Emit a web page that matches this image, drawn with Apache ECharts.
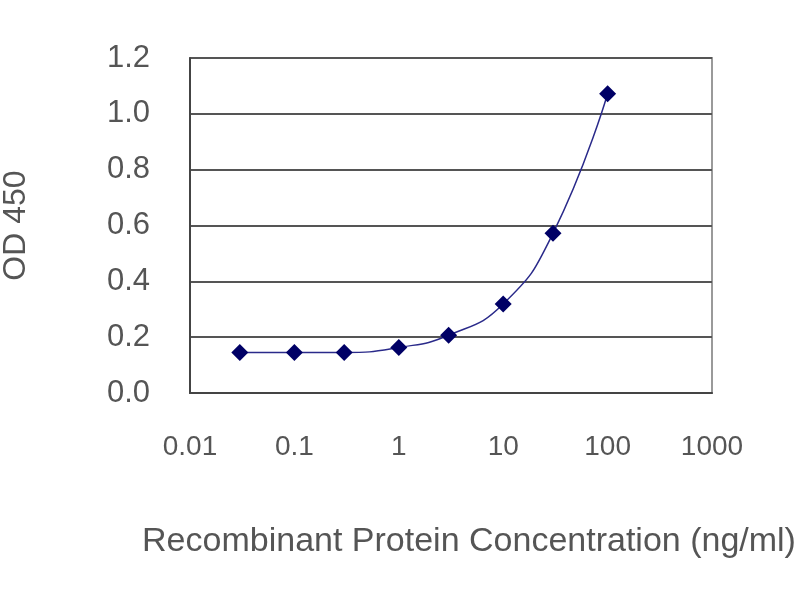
<!DOCTYPE html>
<html>
<head>
<meta charset="utf-8">
<script src="https://cdn.jsdelivr.net/npm/echarts@6/dist/echarts.min.js"></script>
<style>
  html, body { margin: 0; padding: 0; background: #fff; }
  #chart { width: 800px; height: 600px; }
</style>
</head>
<body>
<div id="chart"></div>
<script>
// concentration (ng/ml) and OD 450
const concentrations = [0.03, 0.1, 0.3, 1, 3, 10, 30, 100];
const odValues = [0.145, 0.145, 0.145, 0.163, 0.207, 0.319, 0.572, 1.072];
const xTickLabels = ['0.01', '0.1', '1', '10', '100', '1000'];

const chart = echarts.init(document.getElementById('chart'));

const seriesData = concentrations.map((c, i) => [c, odValues[i]]);

const option = {
    backgroundColor: '#fff',
    textStyle: { fontFamily: 'Liberation Sans, Arial, sans-serif' },
    grid: {
        left: 190, right: 88, top: 58, bottom: 207,
        outerBoundsMode: 'none',
        containLabel: false,
        show: true, borderColor: '#9a9a9a', borderWidth: 2
    },
    xAxis: {
        type: 'log',
        logBase: 10,
        min: 0.01,
        max: 1000,
        name: 'Recombinant Protein Concentration (ng/ml)',
        nameLocation: 'middle',
        nameGap: 132,
        nameTextStyle: { fontSize: 34, color: '#555', padding: [0, 0, 0, 36] },
        axisLine: { lineStyle: { color: '#444', width: 2 } },
        axisTick: { show: false },
        splitLine: { show: false },
        axisLabel: {
            fontSize: 28, color: '#555', margin: 40,
            formatter: (v) => {
                const idx = Math.round(Math.log10(v)) + 2;
                return xTickLabels[idx] !== undefined ? xTickLabels[idx] : '';
            }
        }
    },
    yAxis: {
        type: 'value',
        min: 0,
        max: 1.2,
        interval: 0.2,
        name: 'OD 450',
        nameLocation: 'middle',
        nameGap: 158,
        nameTextStyle: { fontSize: 32, color: '#555' },
        axisLine: { show: true, lineStyle: { color: '#444', width: 2 } },
        axisTick: { show: false },
        splitLine: { lineStyle: { color: '#555', width: 2 } },
        axisLabel: {
            fontSize: 31, color: '#555', margin: 40,
            formatter: (v) => v.toFixed(1)
        }
    },
    series: [
        {
            type: 'line',
            data: seriesData,
            smooth: true,
            symbol: 'diamond',
            symbolSize: 17,
            itemStyle: { color: '#000066' },
            lineStyle: { color: '#2a2a8a', width: 1.5 }
        }
    ]
};

chart.setOption(option);
</script>
</body>
</html>
